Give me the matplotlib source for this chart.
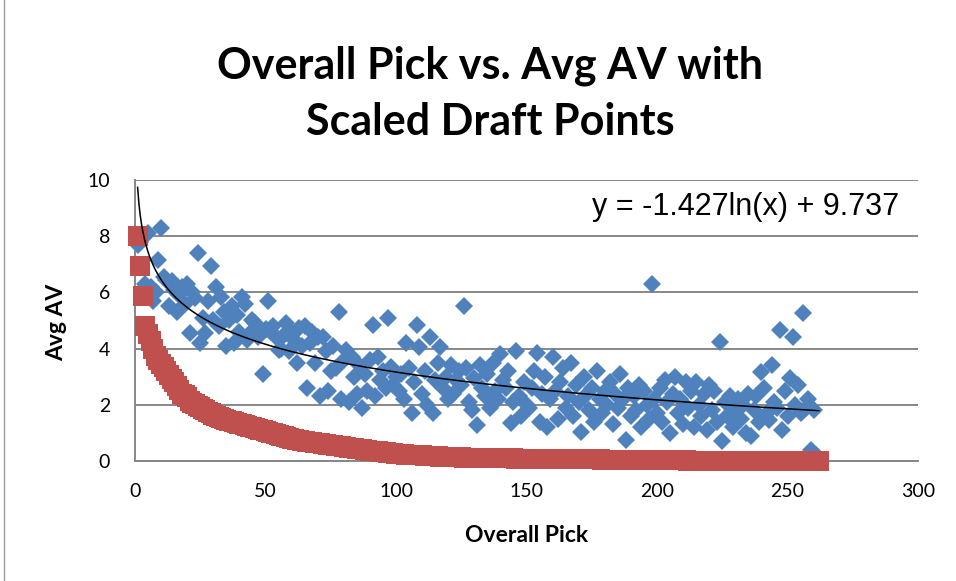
import matplotlib
matplotlib.use("Agg")
import matplotlib.pyplot as plt
from matplotlib.lines import Line2D
import numpy as np

plt.rcParams['font.family'] = ['Lato', 'DejaVu Sans']

# Avg AV per overall pick (blue diamonds)
avg_av = [
    7.7, 7.8, 8.0, 6.3, 8.1, 6.2, 5.7, 6.0, 7.15, 8.3,
    6.55, 6.45, 5.5, 6.4, 6.1, 5.3, 5.9, 6.2, 5.6, 6.3,
    4.55, 6.0, 5.8, 7.4, 4.2, 5.1, 4.55, 5.7, 6.95, 5.0,
    6.2, 4.8, 5.85, 5.3, 4.1, 5.0, 5.5, 4.2, 5.2, 4.6,
    5.85, 5.6, 4.3, 4.55, 5.0, 4.9, 4.4, 4.65, 3.1, 4.7,
    5.7, 4.6, 4.8, 4.4, 3.95, 4.0, 4.5, 4.9, 3.9, 4.55,
    4.3, 3.5, 4.75, 4.1, 4.8, 2.6, 4.2, 4.6, 3.5, 4.4,
    2.3, 4.4, 3.9, 2.5, 3.2, 4.1, 3.3, 5.3, 2.2, 3.6,
    3.95, 2.1, 3.7, 3.0, 2.4, 3.4, 1.9, 3.1, 2.5, 3.6,
    4.85, 2.3, 3.7, 2.9, 3.2, 2.6, 5.1, 3.35, 2.7, 3.0,
    2.5, 3.1, 2.2, 4.2, 3.3, 1.7, 2.8, 4.85, 4.05, 2.4,
    3.2, 2.0, 4.4, 1.7, 2.9, 3.5, 4.05, 2.6, 3.0, 2.2,
    3.4, 2.4, 2.9, 3.2, 2.7, 5.5, 3.3, 2.1, 1.8, 2.95,
    1.28, 3.4, 2.6, 2.3, 3.1, 1.9, 3.5, 2.5, 2.2, 3.8,
    2.9, 2.6, 3.2, 1.35, 2.1, 3.9, 2.3, 1.6, 2.8, 2.0,
    1.9, 2.6, 3.2, 3.85, 1.4, 2.4, 3.0, 1.2, 2.2, 3.7,
    2.5, 1.5, 2.8, 3.3, 1.9, 2.3, 3.5, 1.6, 2.7, 2.1,
    1.03, 3.0, 2.4, 1.8, 2.6, 1.4, 3.2, 2.2, 1.7, 2.5,
    2.0, 2.8, 1.3, 2.4, 1.9, 3.1, 2.2, 0.75, 2.6, 1.6,
    2.3, 1.8, 2.7, 1.2, 2.5, 2.0, 1.5, 6.3, 2.2, 1.7,
    2.6, 1.4, 2.9, 2.1, 1.0, 2.4, 3.0, 1.7, 2.2, 1.3,
    2.8, 1.9, 2.5, 1.2, 2.8, 2.0, 1.6, 2.4, 1.1, 2.7,
    1.8, 2.5, 1.4, 4.25, 0.7, 2.1, 1.6, 2.3, 1.2, 1.9,
    2.2, 1.5, 2.0, 1.0, 2.4, 0.9, 1.8, 2.3, 1.4, 3.15,
    2.6, 1.7, 1.45, 3.4, 2.1, 1.9, 4.65, 1.1, 2.5, 1.6,
    2.95, 4.4, 2.0, 2.7, 1.7, 5.25, 1.9, 2.2, 0.4, 1.8,
    0.2, 0.1,
]

# draft value chart points per pick (red squares), scaled so pick 1 = 8
draft_points = [
    3000, 2600, 2200, 1800, 1700, 1600, 1500, 1400, 1350, 1300,
    1250, 1200, 1150, 1100, 1050, 1000, 950, 900, 875, 850,
    800, 780, 760, 740, 720, 700, 680, 660, 640, 620,
    600, 590, 580, 560, 550, 540, 530, 520, 510, 500,
    490, 480, 470, 460, 450, 440, 430, 420, 410, 400,
    390, 380, 370, 360, 350, 340, 330, 320, 310, 300,
    292, 284, 276, 270, 265, 260, 255, 250, 245, 240,
    235, 230, 225, 220, 215, 210, 205, 200, 195, 190,
    185, 180, 175, 170, 165, 160, 155, 150, 145, 140,
    136, 132, 128, 124, 120, 116, 112, 108, 104, 100,
    96, 92, 88, 86, 84, 82, 80, 78, 76, 74,
    72, 70, 68, 66, 64, 62, 60, 58, 56, 54,
    52, 50, 49, 48, 47, 46, 45, 44, 43, 42,
    41, 40, 39.5, 39, 38.5, 38, 37.5, 37, 36.5, 36,
    35.5, 35, 34.5, 34, 33.5, 33, 32.6, 32.2, 31.8, 31.4,
    31, 30.6, 30.2, 29.8, 29.4, 29, 28.6, 28.2, 27.8, 27.4,
    27, 26.6, 26.2, 25.8, 25.4, 25, 24.6, 24.2, 23.8, 23.4,
    23, 22.6, 22.2, 21.8, 21.4, 21, 20.6, 20.2, 19.8, 19.4,
    19, 18.6, 18.2, 17.8, 17.4, 17, 16.6, 16.2, 15.8, 15.4,
    15, 14.6, 14.2, 13.8, 13.4, 13, 12.6, 12.2, 11.8, 11.4,
    11, 10.6, 10.2, 9.8, 9.4, 9, 8.6, 8.2, 7.8, 7.4,
    7, 6.6, 6.2, 5.8, 5.4, 5, 4.6, 4.2, 3.8, 3.4,
    3, 2.6, 2.3, 2, 0, 0, 0, 0, 0, 0,
    0, 0, 0, 0, 0, 0, 0, 0, 0, 0,
    0, 0, 0, 0, 0, 0, 0, 0, 0, 0,
    0, 0, 0, 0, 0, 0, 0, 0, 0, 0,
    0, 0,
]
points_scale = 8 / 3000

# log trendline shown on the chart
trend_a = -1.427
trend_b = 9.737

x_ticks = [0, 50, 100, 150, 200, 250, 300]
y_ticks = [0, 2, 4, 6, 8, 10]

blue = '#4F81BD'
red = '#C0504D'
grid_col = '#878787'

W, H = 956, 581
fig = plt.figure(figsize=(W / 100, H / 100), dpi=100)

# left edge of the chart border
fig.lines.append(Line2D([3.5 / W, 3.5 / W], [0, 1], transform=fig.transFigure,
                        color='#9a9a9a', lw=1.0))

ax = fig.add_axes([135 / W, 1 - 461 / H, 783 / W, 281 / H])

picks_blue = np.arange(1, len(avg_av) + 1)
picks_red = np.arange(1, len(draft_points) + 1)
scaled = np.array(draft_points) * points_scale

ax.plot(picks_blue, avg_av, linestyle='none', marker='D', ms=9.6, mew=0,
        color=blue, clip_on=False, zorder=3)
ax.plot(picks_red, scaled, linestyle='none', marker='s', ms=13.8, mew=0,
        color=red, clip_on=False, zorder=4)

xt = np.linspace(1, picks_blue[-1], 500)
ax.plot(xt, trend_a * np.log(xt) + trend_b, color='black', lw=1.1, zorder=5)

ax.set_xlim(0, 300)
ax.set_ylim(0, 10)
ax.set_xticks(x_ticks)
ax.set_yticks(y_ticks)
ax.tick_params(length=0, labelsize=14)
ax.tick_params(axis='y', pad=18)
ax.tick_params(axis='x', pad=16)

ax.grid(axis='y', color=grid_col, lw=1.4)
ax.set_axisbelow(True)
for s in ['top', 'right']:
    ax.spines[s].set_visible(False)
for s in ['left', 'bottom']:
    ax.spines[s].set_color(grid_col)
    ax.spines[s].set_linewidth(1.4)

fig.text(490 / W, 1 - 78 / H, 'Overall Pick vs. Avg AV with', ha='center', va='baseline',
         fontsize=31, fontweight='bold')
fig.text(490 / W, 1 - 135 / H, 'Scaled Draft Points', ha='center', va='baseline',
         fontsize=31, fontweight='bold')

fig.text(527 / W, 1 - 535 / H, 'Overall Pick', ha='center', va='center',
         fontsize=16.5, fontweight='bold')
fig.text(57 / W, 1 - 322 / H, 'Avg AV', ha='center', va='center', rotation=90,
         fontsize=16.5, fontweight='bold')

fig.text(592 / W, 1 - 215 / H, 'y = -1.427ln(x) + 9.737', ha='left', va='baseline',
         fontsize=22, family=['Liberation Sans', 'DejaVu Sans'])

fig.savefig('out.png', dpi=100)
